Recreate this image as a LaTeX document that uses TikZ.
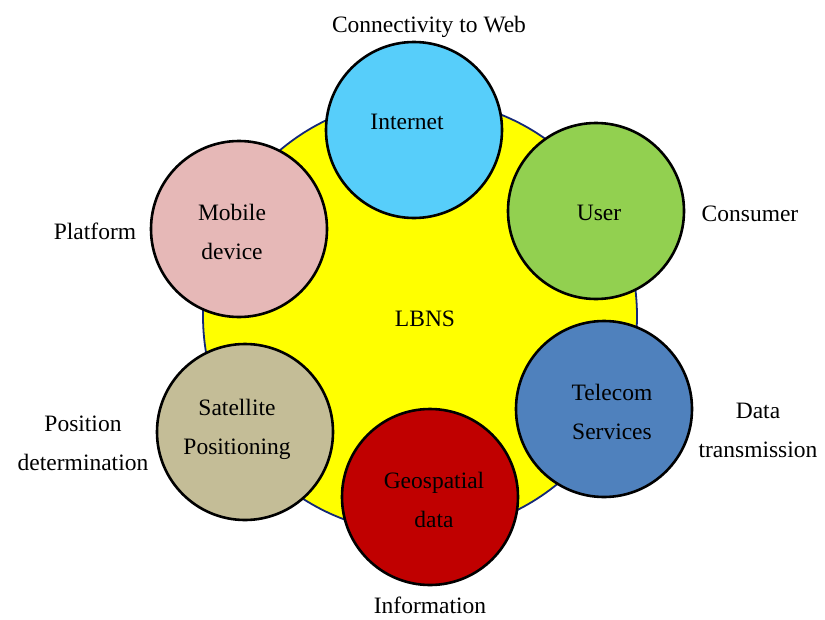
\documentclass[tikz,border=0pt]{standalone}
\usepackage{fontspec}
\setmainfont{Liberation Serif}
\definecolor{cYellow}{RGB}{255,255,0}
\definecolor{cInternet}{RGB}{87,206,250}
\definecolor{cMobile}{RGB}{230,184,183}
\definecolor{cUser}{RGB}{146,208,80}
\definecolor{cTelecom}{RGB}{79,129,189}
\definecolor{cGeo}{RGB}{192,0,0}
\definecolor{cSat}{RGB}{196,189,151}
\definecolor{cNavy}{RGB}{20,40,120}
\tikzset{
  bigc/.style={circle, fill=cYellow, draw=cNavy, line width=1.8pt, inner sep=0pt, minimum size=434pt},
  smallc/.style={circle, draw=black, line width=2.6pt, inner sep=0pt, minimum size=176pt},
  lbl/.style={font=\fontsize{23.5}{39}\selectfont, align=center, inner sep=0pt, text=black},
}
\begin{document}
\begin{tikzpicture}[x=1pt,y=-1pt]
\useasboundingbox (0,0) rectangle (825,619);
\node[bigc] (core) at (420,316) {};
\node[smallc, fill=cInternet] (internet) at (414,130) {};
\node[smallc, fill=cMobile] (mobile) at (239,229) {};
\node[smallc, fill=cUser] (user) at (596,211) {};
\node[smallc, fill=cSat] (sat) at (245,432) {};
\node[smallc, fill=cGeo] (geo) at (430,497) {};
\node[smallc, fill=cTelecom] (tel) at (604,409) {};
% labels inside
\node[lbl] (lbns) at (425,318.2) {\strut LBNS};
\node[lbl] (tInternet) at (407,121.2) {\strut Internet};
\node[lbl] (tUser) at (599,212.2) {\strut User};
\node[lbl] (tMobile) at (232,231.7) {\strut Mobile\\\strut device};
\node[lbl] (tSat) at (237,427.2) {\strut Satellite\\\strut Positioning};
\node[lbl] (tGeo) at (434,499.7) {\strut Geospatial\\\strut data};
\node[lbl] (tTel) at (612,411.7) {\strut Telecom\\\strut Services};
% labels outside
\node[lbl] (lConn) at (429,24.2) {\strut Connectivity to Web};
\node[lbl] (lCons) at (750,213.2) {\strut Consumer};
\node[lbl] (lPlat) at (95,231.2) {\strut Platform};
\node[lbl] (lPos) at (83,443.2) {\strut Position\\\strut determination};
\node[lbl] (lData) at (758,429.7) {\strut Data\\\strut transmission};
\node[lbl, anchor=base] (lInfo) at (430,613) {Information};
\end{tikzpicture}
\end{document}
